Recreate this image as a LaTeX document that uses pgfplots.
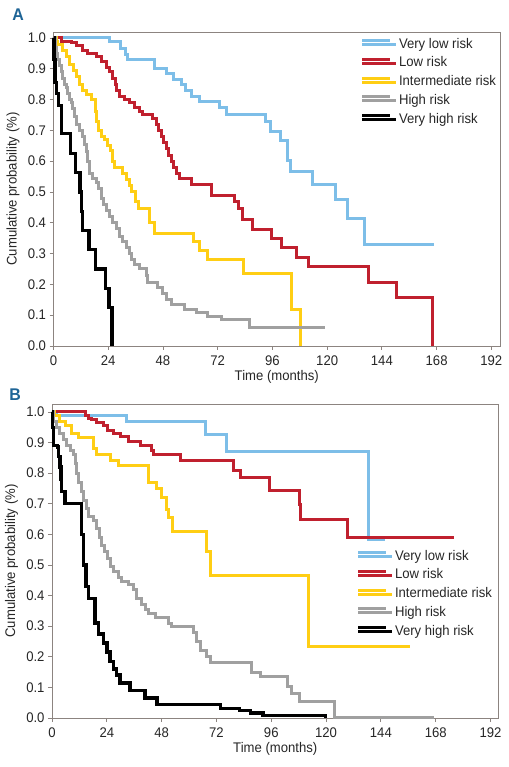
\documentclass[border=0pt]{standalone}
\usepackage{fontspec}
\setmainfont{Liberation Sans}[FakeStretch=0.94]
\usepackage{pgfplots}
\pgfplotsset{compat=1.18}
\definecolor{vlow}{RGB}{125,190,232}
\definecolor{lowc}{RGB}{192,32,46}
\definecolor{inter}{RGB}{255,206,20}
\definecolor{high}{RGB}{160,160,160}
\definecolor{framec}{RGB}{140,132,128}
\definecolor{lettc}{RGB}{30,100,150}
\tikzset{kml/.style={line width=3bp, const plot}}
\pgfplotsset{
  kmaxis/.style={
    scale only axis, width=446.5bp, height=314bp,
    xmin=0, ymin=0,
    xtick={0,24,48,72,96,120,144,168,192},
    ytick={0,0.1,0.2,0.3,0.4,0.5,0.6,0.7,0.8,0.9,1.0},
    tick pos=left, tick align=outside, major tick length=4bp,
    axis line style={framec, line width=0.8bp},
    tick style={framec, line width=0.8bp},
    /pgf/number format/assume math mode=true,
    xticklabel style={font=\fontsize{14}{16}\selectfont, text=black!85, yshift=-2bp},
    yticklabel style={font=\fontsize{14}{16}\selectfont, text=black!85, /pgf/number format/.cd, fixed, fixed zerofill, precision=1},
    ylabel={Cumulative probability (\%)},
    xlabel={Time (months)},
    every axis y label/.style={at={(axis description cs:-0.0907,0.5)}, rotate=90, anchor=center, font=\fontsize{14}{16}\selectfont, text=black!85},
    clip=false,
    legend style={draw=none, fill=none, inner sep=0pt, anchor=north west,
      font=\fontsize{14}{16}\selectfont, text=black!85,
      nodes={inner sep=1bp, text height=10bp, text depth=3bp},
      row sep=3.7bp},
    legend cell align=left,
    legend image code/.code={\path (0bp,0bp) -- (34bp,0bp); \draw[##1, line width=3bp] (0bp,4bp) -- (28bp,4bp);},
  }
}
\begin{document}
\begin{tikzpicture}[x=1bp,y=1bp]
\useasboundingbox (0,0) rectangle (509,767);
\node[font=\bfseries\fontsize{17}{19}\selectfont, text=lettc] at (18,752) {A};
\node[font=\bfseries\fontsize{17}{19}\selectfont, text=lettc] at (15,372) {B};
% Panel A
\begin{axis}[kmaxis, at={(53.5bp,421bp)}, anchor=south west,
  xmax=195.8, ymax=1.0195,
  every axis x label/.style={at={(axis description cs:0.5,-0.0975)}, anchor=center, font=\fontsize{14}{16}\selectfont, text=black!85},
  legend style={at={(axis cs:134.6,1.003)}}]
\addplot[kml, vlow] coordinates {(0,1) (24.6,0.99) (29.5,0.965) (31.5,0.945) (32.6,0.93) (44.3,0.90) (49.4,0.885) (52.5,0.865) (56,0.85) (58,0.83) (60.4,0.81) (64,0.795) (72.8,0.775) (75.7,0.753) (93,0.728) (95,0.696) (99.6,0.666) (102.8,0.602) (103.8,0.566) (113.7,0.523) (123.7,0.476) (129,0.414) (136.4,0.331) (167,0.331)};
\addplot[kml, lowc] coordinates {(0,1) (3.4,0.99) (7.7,0.985) (10,0.975) (12.9,0.96) (15,0.95) (18.7,0.94) (21,0.925) (23.1,0.905) (24.6,0.89) (26,0.87) (27,0.85) (27.8,0.83) (29,0.81) (31.1,0.80) (33.3,0.79) (35.5,0.775) (37.7,0.76) (39.2,0.75) (43.6,0.74) (45,0.72) (46.2,0.70) (47.2,0.68) (48.2,0.66) (49.4,0.64) (50.6,0.62) (51.6,0.60) (52.6,0.58) (53.8,0.56) (55.3,0.545) (60.4,0.525) (69.2,0.49) (79.4,0.47) (81.3,0.445) (82.7,0.41) (87.4,0.379) (95.5,0.349) (100,0.32) (106.4,0.288) (112,0.258) (138.3,0.205) (150.3,0.157) (166,0)};
\addplot[kml, inter] coordinates {(0,1) (1.2,0.99) (1.9,0.98) (4,0.96) (5.5,0.94) (7,0.915) (8.8,0.895) (10.2,0.875) (11.4,0.85) (12.9,0.83) (14.6,0.815) (16.5,0.80) (18.4,0.76) (19,0.73) (19.6,0.70) (20.9,0.68) (22.4,0.67) (23.8,0.65) (25,0.635) (26,0.60) (26.8,0.58) (30.4,0.56) (31.9,0.54) (33.3,0.52) (34.4,0.50) (36,0.47) (37.4,0.445) (42.1,0.40) (44.3,0.365) (61.5,0.34) (64,0.31) (67.7,0.28) (83.5,0.235) (104.2,0.117) (108.2,0)};
\addplot[kml, high] coordinates {(0,1) (0.7,0.97) (1.2,0.95) (1.9,0.93) (2.6,0.91) (3.4,0.89) (4.1,0.87) (4.8,0.85) (5.5,0.84) (6.3,0.82) (7,0.80) (7.7,0.79) (8.5,0.77) (9.2,0.745) (10.2,0.72) (11.4,0.70) (12.6,0.68) (13.6,0.655) (14.3,0.63) (15.1,0.60) (15.8,0.56) (17.3,0.545) (18.7,0.53) (19.7,0.51) (20.9,0.48) (21.9,0.46) (23.1,0.44) (24.6,0.42) (26,0.40) (27.5,0.38) (29,0.355) (30.4,0.34) (31.9,0.32) (33.3,0.30) (34.4,0.28) (35.5,0.265) (37.7,0.25) (40.6,0.23) (41.4,0.205) (45.8,0.19) (47.7,0.17) (49.4,0.15) (51.6,0.135) (57.5,0.12) (62.6,0.11) (67.7,0.095) (73.5,0.085) (86,0.06) (119,0.06)};
\addplot[kml, black, line width=3.4bp] coordinates {(0,1) (0.3,0.93) (0.6,0.856) (1.2,0.82) (2.3,0.78) (3.4,0.69) (7.5,0.625) (9.6,0.5625) (11.7,0.5) (12.3,0.4375) (12.8,0.375) (15.5,0.3125) (18.4,0.25) (22.8,0.1875) (24.3,0.125) (25.6,0)};
\legend{Very low risk, Low risk, Intermediate risk, High risk, Very high risk}
\end{axis}
% Panel B
\begin{axis}[kmaxis, at={(52bp,49bp)}, anchor=south west,
  xmax=195.5, ymax=1.026,
  every axis x label/.style={at={(axis description cs:0.5,-0.0985)}, anchor=center, font=\fontsize{14}{16}\selectfont, text=black!85},
  legend style={at={(axis cs:133.3,0.552)}}]
\addplot[kml, vlow] coordinates {(0,1) (2,0.99) (32.7,0.97) (67,0.925) (76.6,0.87) (138.7,0.582) (145.7,0.582)};
\addplot[kml, lowc] coordinates {(0,1) (14.5,0.99) (15.9,0.98) (17.4,0.975) (19.6,0.965) (22.5,0.955) (24.3,0.94) (26.9,0.93) (29.8,0.92) (33.5,0.905) (38.6,0.89) (43.7,0.875) (44.4,0.86) (56.1,0.84) (79.5,0.81) (82.4,0.786) (95.3,0.742) (108.4,0.696) (108.9,0.647) (129.2,0.59) (176.2,0.59)};
\addplot[kml, inter] coordinates {(0,1) (1.3,0.99) (3.5,0.97) (5.7,0.955) (8.6,0.93) (11.5,0.915) (18.1,0.88) (19.6,0.86) (25.4,0.84) (29,0.825) (42.2,0.77) (45.6,0.75) (48.1,0.72) (50.3,0.68) (51,0.655) (52.9,0.61) (67.8,0.545) (69.3,0.467) (112.4,0.235) (156.7,0.235)};
\addplot[kml, high] coordinates {(0,1) (0.6,0.97) (2,0.95) (3.5,0.93) (5,0.91) (6.4,0.89) (7.9,0.875) (9.4,0.86) (10.1,0.83) (10.9,0.80) (11.8,0.77) (13,0.74) (13.7,0.71) (15.2,0.685) (15.9,0.66) (18.1,0.645) (19.6,0.62) (20.8,0.59) (21.8,0.565) (23.2,0.545) (24.3,0.52) (25.4,0.495) (26.9,0.48) (29.1,0.46) (30.5,0.445) (33.5,0.435) (35.7,0.42) (37.1,0.39) (39.3,0.37) (40.8,0.355) (42.2,0.34) (45.2,0.33) (51,0.31) (52.5,0.30) (62,0.28) (63.4,0.25) (64.9,0.22) (67.8,0.20) (69.3,0.18) (87.5,0.15) (91.2,0.135) (103.2,0.102) (105,0.081) (108.4,0.053) (123.6,0) (167.2,0)};
\addplot[kml, black, line width=3.4bp] coordinates {(0,1) (0.3,0.95) (0.6,0.89) (2.3,0.885) (2.8,0.855) (3.5,0.82) (3.9,0.78) (4.2,0.74) (5.7,0.70) (13,0.60) (13.7,0.50) (14.9,0.43) (15.9,0.39) (18.9,0.31) (20.3,0.275) (22.5,0.245) (24,0.215) (25.4,0.185) (26.9,0.16) (28.3,0.14) (29.8,0.115) (34.2,0.09) (40.8,0.065) (45.9,0.045) (73.7,0.032) (82,0.024) (86.8,0.016) (92.4,0.008) (119.7,0)};
\legend{Very low risk, Low risk, Intermediate risk, High risk, Very high risk}
\end{axis}
\end{tikzpicture}
\end{document}
